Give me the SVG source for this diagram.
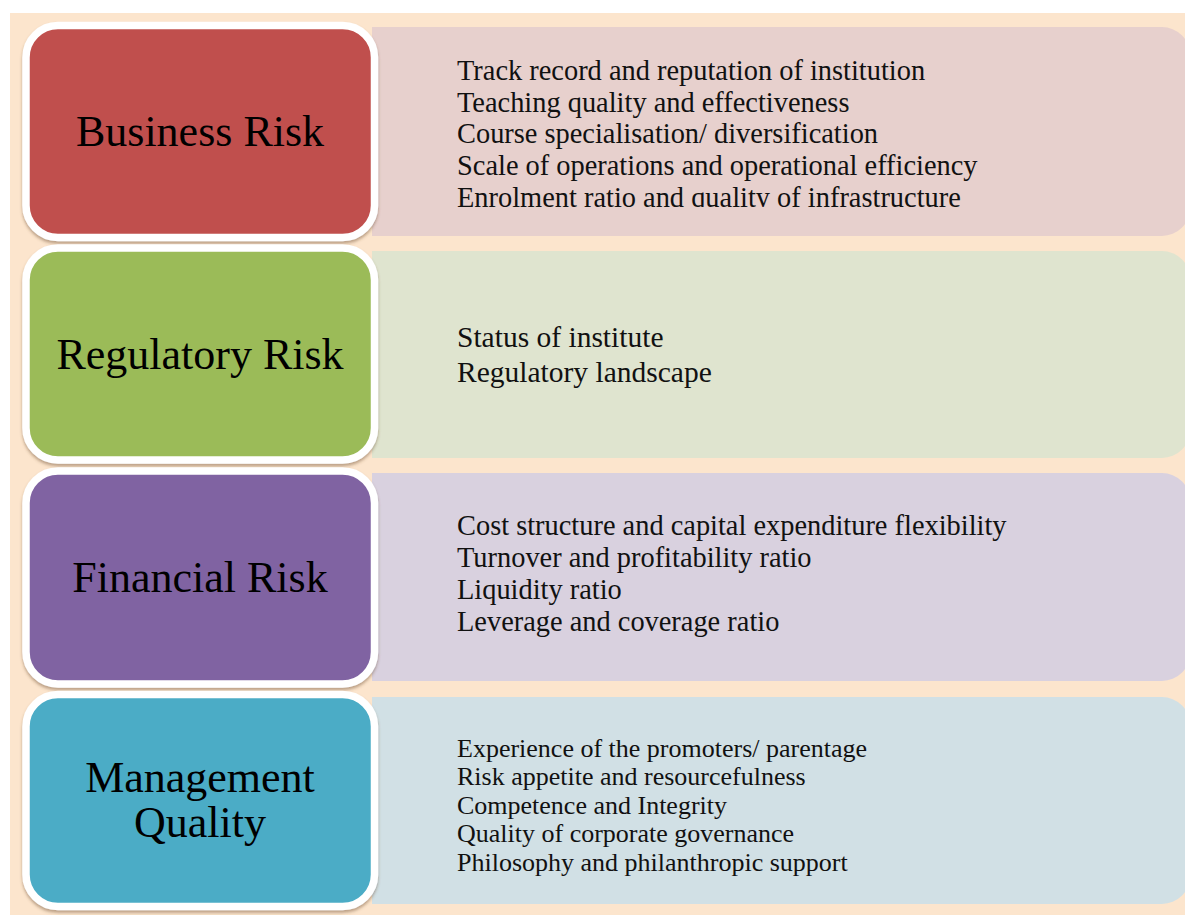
<svg xmlns="http://www.w3.org/2000/svg" width="1185" height="915" viewBox="0 0 1185 915">
  <style>
    .title { font-family: "Liberation Serif", "Times New Roman", serif; font-size: 44px; fill: #000; text-anchor: middle; }
    .item { font-family: "Liberation Serif", "Times New Roman", serif; font-size: 28.4px; fill: #111; }
    .item-sm { font-family: "Liberation Serif", "Times New Roman", serif; font-size: 26px; fill: #111; }
    .box { stroke: #fff; stroke-width: 7.5; filter: url(#shadow); }
  </style>
  <defs>
    <filter id="shadow" x="-10%" y="-10%" width="120%" height="125%">
      <feDropShadow dx="0" dy="2.5" stdDeviation="1.5" flood-color="#6b4a2a" flood-opacity="0.45"/>
    </filter>
    <clipPath id="clip-business">
      <rect x="372" y="27" width="818" height="180"/>
    </clipPath>
  </defs>

  <!-- page background -->
  <rect x="0" y="0" width="1185" height="915" fill="#ffffff"/>
  <rect x="10" y="13" width="1175" height="902" fill="#FCE5CD"/>

  <!-- detail panels (square left edge, rounded right edge) -->
  <g id="panels">
    <path d="M372 27 H1162 A28 28 0 0 1 1190 55 V208 A28 28 0 0 1 1162 236 H372 Z" fill="#E7D0CD"/>
    <path d="M372 251 H1162 A28 28 0 0 1 1190 279 V430 A28 28 0 0 1 1162 458 H372 Z" fill="#DFE4CF"/>
    <path d="M372 473 H1162 A28 28 0 0 1 1190 501 V653 A28 28 0 0 1 1162 681 H372 Z" fill="#D9D1DF"/>
    <path d="M372 697 H1162 A28 28 0 0 1 1190 725 V876 A28 28 0 0 1 1162 904 H372 Z" fill="#D1E0E5"/>
  </g>

  <g id="business-risk">
    <rect class="box" x="26" y="25.5" width="348.5" height="212" rx="32" fill="#C0504D"/>
    <text class="title" x="200" y="146">Business Risk</text>
    <g clip-path="url(#clip-business)">
      <text class="item" x="457" y="79.5">Track record and reputation of institution</text>
      <text class="item" x="457" y="111.5">Teaching quality and effectiveness</text>
      <text class="item" x="457" y="143">Course specialisation/ diversification</text>
      <text class="item" x="457" y="175">Scale of operations and operational efficiency</text>
      <text class="item" x="457" y="207">Enrolment ratio and quality of infrastructure</text>
    </g>
  </g>

  <g id="regulatory-risk">
    <rect class="box" x="26" y="248" width="348.5" height="212" rx="32" fill="#9BBB59"/>
    <text class="title" x="200" y="369">Regulatory Risk</text>
    <text class="item" x="457" y="346.5" style="font-size:29.5px">Status of institute</text>
    <text class="item" x="457" y="381.5" style="font-size:29.5px">Regulatory landscape</text>
  </g>

  <g id="financial-risk">
    <rect class="box" x="26" y="471" width="348.5" height="213" rx="32" fill="#8064A2"/>
    <text class="title" x="200" y="592">Financial Risk</text>
    <text class="item" x="457" y="535">Cost structure and capital expenditure flexibility</text>
    <text class="item" x="457" y="567">Turnover and profitability ratio</text>
    <text class="item" x="457" y="599">Liquidity ratio</text>
    <text class="item" x="457" y="631">Leverage and coverage ratio</text>
  </g>

  <g id="management-quality">
    <rect class="box" x="26" y="694.5" width="348.5" height="212" rx="32" fill="#4BACC6"/>
    <text class="title" x="200" y="792">Management</text>
    <text class="title" x="200" y="837">Quality</text>
    <text class="item-sm" x="457" y="756.5">Experience of the promoters/ parentage</text>
    <text class="item-sm" x="457" y="785">Risk appetite and resourcefulness</text>
    <text class="item-sm" x="457" y="813.5">Competence and Integrity</text>
    <text class="item-sm" x="457" y="842">Quality of corporate governance</text>
    <text class="item-sm" x="457" y="870.5">Philosophy and philanthropic support</text>
  </g>

  <!-- no connecting lines in this layout -->
  <g id="connectors"/>
</svg>
